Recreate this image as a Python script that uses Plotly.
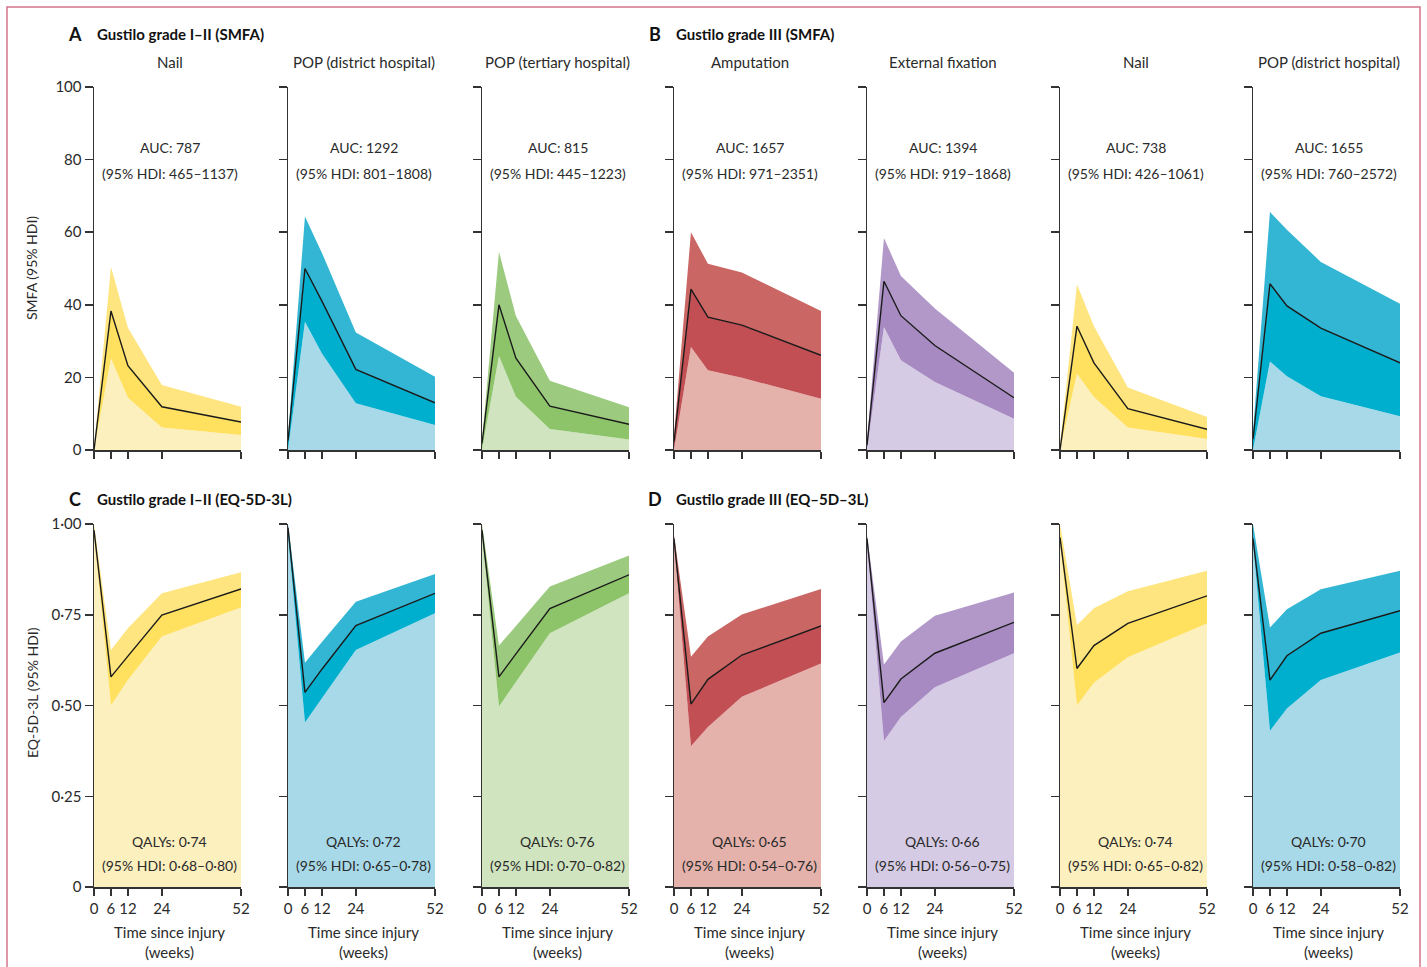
import plotly.graph_objects as go

W, H = 1427, 967

weeks = [0, 6, 12, 24, 52]
tick_vals_x = [0, 6, 12, 24, 52]

treatments_top = ["Nail", "POP (district hospital)", "POP (tertiary hospital)",
                  "Amputation", "External fixation", "Nail", "POP (district hospital)"]

# SMFA (rows A/B) per panel: lower 95% HDI, mean, upper 95% HDI
smfa_lower = [
    [0, 25.2, 14.4, 6.2, 4.1],
    [0, 35.3, 26.6, 12.9, 6.9],
    [0, 25.9, 14.7, 5.8, 2.9],
    [0, 28.4, 22.0, 19.9, 14.1],
    [0, 33.9, 24.7, 18.7, 8.6],
    [0, 21.0, 14.6, 6.2, 3.0],
    [0, 24.4, 20.3, 14.8, 9.3],
]
smfa_mean = [
    [0, 38.3, 23.2, 11.9, 7.7],
    [2.6, 50.0, 41.0, 22.2, 13.0],
    [1.8, 40.0, 25.3, 12.1, 7.1],
    [2.2, 44.3, 36.6, 34.4, 26.1],
    [1.3, 46.5, 37.0, 28.8, 14.4],
    [0, 34.1, 24.0, 11.4, 5.7],
    [3.0, 45.8, 39.7, 33.6, 24.0],
]
smfa_upper = [
    [0.5, 50.5, 33.7, 17.9, 11.9],
    [3.5, 64.3, 54.3, 32.4, 20.2],
    [2.5, 54.6, 36.9, 19.1, 11.8],
    [4.0, 60.0, 51.3, 48.9, 38.3],
    [2.5, 58.4, 47.9, 39.0, 21.3],
    [1.0, 45.6, 34.1, 17.2, 9.1],
    [5.0, 65.6, 60.7, 51.8, 40.3],
]

# EQ-5D-3L (rows C/D)
eq_lower = [
    [0.97, 0.500, 0.570, 0.690, 0.770],
    [0.97, 0.453, 0.520, 0.653, 0.754],
    [0.97, 0.497, 0.565, 0.699, 0.809],
    [0.95, 0.388, 0.441, 0.524, 0.616],
    [0.95, 0.402, 0.468, 0.550, 0.644],
    [0.95, 0.500, 0.563, 0.633, 0.726],
    [0.95, 0.430, 0.492, 0.570, 0.646],
]
eq_mean = [
    [0.983, 0.579, 0.636, 0.749, 0.821],
    [0.990, 0.536, 0.600, 0.720, 0.809],
    [0.983, 0.579, 0.642, 0.767, 0.860],
    [0.960, 0.504, 0.572, 0.639, 0.719],
    [0.960, 0.508, 0.573, 0.644, 0.729],
    [0.963, 0.602, 0.665, 0.726, 0.802],
    [0.960, 0.570, 0.637, 0.699, 0.761],
]
eq_upper = [
    [1.0, 0.653, 0.713, 0.809, 0.867],
    [1.0, 0.618, 0.675, 0.786, 0.862],
    [1.0, 0.665, 0.719, 0.828, 0.913],
    [0.97, 0.634, 0.690, 0.751, 0.821],
    [0.97, 0.613, 0.676, 0.747, 0.811],
    [1.0, 0.722, 0.768, 0.815, 0.871],
    [1.0, 0.715, 0.765, 0.820, 0.871],
]

auc_main = ["AUC: 787", "AUC: 1292", "AUC: 815", "AUC: 1657", "AUC: 1394", "AUC: 738", "AUC: 1655"]
auc_hdi = ["(95% HDI: 465–1137)", "(95% HDI: 801–1808)", "(95% HDI: 445–1223)",
           "(95% HDI: 971–2351)", "(95% HDI: 919–1868)", "(95% HDI: 426–1061)",
           "(95% HDI: 760–2572)"]
qaly_main = ["QALYs: 0·74", "QALYs: 0·72", "QALYs: 0·76", "QALYs: 0·65", "QALYs: 0·66",
             "QALYs: 0·74", "QALYs: 0·70"]
qaly_hdi = ["(95% HDI: 0·68–0·80)", "(95% HDI: 0·65–0·78)", "(95% HDI: 0·70–0·82)",
            "(95% HDI: 0·54–0·76)", "(95% HDI: 0·56–0·75)", "(95% HDI: 0·65–0·82)",
            "(95% HDI: 0·58–0·82)"]

# palette: (light area, lower band, upper band)
YEL = ("#fdf0bf", "#ffe15f", "#fee57f")
BLU = ("#a8d9e8", "#00afce", "#33b6d3")
GRN = ("#d0e4bf", "#8dc46a", "#9ccb80")
RED = ("#e4b2ab", "#c14f54", "#ca6664")
PUR = ("#d6cbe4", "#a78ac1", "#b198c8")
panel_colors = [YEL, BLU, GRN, RED, PUR, YEL, BLU]

FONT = "Lato"
TXT = "#2a2a2a"
AX = "#333333"

left_px = [94, 288, 482, 674, 867, 1060, 1253]
panel_w = 147
top_row = (87, 450)
bot_row = (524, 887)

def px2x(p):
    return p / W

def py2y(p):
    return 1 - p / H

fig = go.Figure()
layout = dict(
    width=W, height=H, margin=dict(l=0, r=0, t=0, b=0, autoexpand=False),
    paper_bgcolor="white", plot_bgcolor="white", showlegend=False,
    hovermode=False, font=dict(family=FONT, color=TXT, size=15),
)
annotations = []

def note(text, xp, yp, size=15, xanchor="center", color=TXT, **kw):
    annotations.append(dict(text=text, x=px2x(xp), y=py2y(yp), xref="paper", yref="paper",
                            xanchor=xanchor, yanchor="middle", showarrow=False,
                            font=dict(size=size, color=color, family=FONT), **kw))

def add_panel(idx, row, lower, mean, upper, colors):
    n = idx + 1 + row * 7
    xa = "x" if n == 1 else f"x{n}"
    ya = "y" if n == 1 else f"y{n}"
    light, band_lo, band_hi = colors
    fig.add_trace(go.Scatter(x=weeks, y=lower, xaxis=xa, yaxis=ya, mode="lines",
                             line=dict(width=0), fill="tozeroy", fillcolor=light))
    fig.add_trace(go.Scatter(x=weeks, y=mean, xaxis=xa, yaxis=ya, mode="lines",
                             line=dict(width=0), fill="tonexty", fillcolor=band_lo))
    fig.add_trace(go.Scatter(x=weeks, y=upper, xaxis=xa, yaxis=ya, mode="lines",
                             line=dict(width=0), fill="tonexty", fillcolor=band_hi))
    fig.add_trace(go.Scatter(x=weeks, y=mean, xaxis=xa, yaxis=ya, mode="lines",
                             line=dict(width=1.4, color="#1a1a1a")))
    l = left_px[idx]
    ytop, ybot = (top_row if row == 0 else bot_row)
    xkey = "xaxis" if n == 1 else f"xaxis{n}"
    ykey = "yaxis" if n == 1 else f"yaxis{n}"
    layout[xkey] = dict(
        domain=[px2x(l), px2x(l + panel_w)], anchor=ya, range=[0, 52],
        showline=True, linecolor=AX, linewidth=1.5, ticks="outside", ticklen=7,
        tickwidth=1.5, tickcolor=AX, tickvals=tick_vals_x,
        showticklabels=(row == 1), tickfont=dict(size=15, color=TXT),
        showgrid=False, zeroline=False, fixedrange=True, automargin=False,
    )
    if row == 0:
        yvals = [0, 20, 40, 60, 80, 100]
        ytext = ["0", "20", "40", "60", "80", "100"]
        yr = [0, 100]
    else:
        yvals = [0, 0.25, 0.5, 0.75, 1.0]
        ytext = ["0", "0·25", "0·50", "0·75", "1·00"]
        yr = [0, 1]
    layout[ykey] = dict(
        domain=[py2y(ybot), py2y(ytop)], anchor=xa, range=yr,
        showline=True, linecolor=AX, linewidth=1.5, ticks="outside", ticklen=8,
        tickwidth=1.5, tickcolor=AX, tickvals=yvals, ticktext=ytext,
        showticklabels=(idx == 0), tickfont=dict(size=15, color=TXT),
        showgrid=False, zeroline=False, fixedrange=True, automargin=False,
    )
    cx = l + panel_w / 2 + 2
    if row == 0:
        note(treatments_top[idx], cx, 62)
        note(auc_main[idx], cx, 148, size=14)
        note(auc_hdi[idx], cx, 173, size=14)
    else:
        note(qaly_main[idx], cx, 841, size=14)
        note(qaly_hdi[idx], cx, 865, size=14)
        note("Time since injury<br>(weeks)", cx, 942, size=15, align="center")

for i in range(7):
    add_panel(i, 0, smfa_lower[i], smfa_mean[i], smfa_upper[i], panel_colors[i])
for i in range(7):
    add_panel(i, 1, eq_lower[i], eq_mean[i], eq_upper[i], panel_colors[i])

# section headings
for letter, text, lx, tx, py in [("A", "Gustilo grade I–II (SMFA)", 75, 95, 34),
                                 ("B", "Gustilo grade III (SMFA)", 655, 674, 34),
                                 ("C", "Gustilo grade I–II (EQ-5D-3L)", 75, 95, 499),
                                 ("D", "Gustilo grade III (EQ–5D–3L)", 655, 674, 499)]:
    note(f"<b>{letter}</b>", lx, py, size=18, color="#111")
    note(f"<b>{text}</b>", tx, py, size=15, xanchor="left", color="#111")

# y-axis titles
note("SMFA (95% HDI)", 32, 268, size=14, textangle=-90)
note("EQ-5D-3L (95% HDI)", 32, 693, size=14, textangle=-90)

layout["annotations"] = annotations
layout["shapes"] = [dict(type="rect", xref="paper", yref="paper",
                         x0=px2x(7), x1=px2x(1420), y0=-0.05, y1=py2y(7),
                         line=dict(color="#d3748d", width=1.5), fillcolor="rgba(0,0,0,0)",
                         layer="below")]
fig.update_layout(**layout)
fig.write_html("out.html", config={"displayModeBar": False, "staticPlot": True},
               post_script="document.body.style.margin='0';document.body.style.padding='0';"
                           "document.body.style.overflow='hidden';")
